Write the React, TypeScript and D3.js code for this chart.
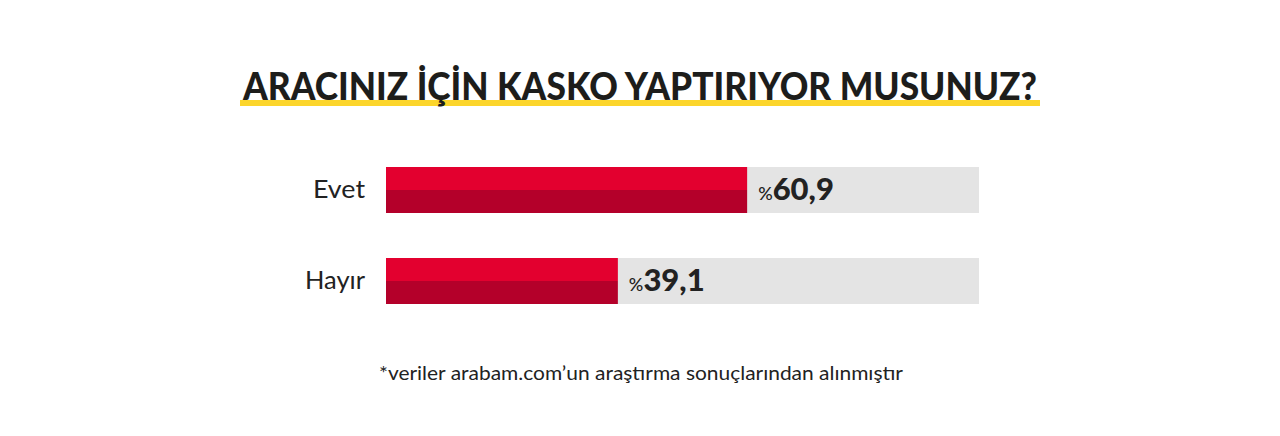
import React from "react";
import * as d3 from "d3";

const title = "ARACINIZ İÇİN KASKO YAPTIRIYOR MUSUNUZ?";
const categories = ["Evet", "Hayır"];
const values = [60.9, 39.1];
const valueLabels = ["60,9", "39,1"];
const footnote = "*veriler arabam.com’un araştırma sonuçlarından alınmıştır";

export default function App() {
  const W = 1280, H = 436;
  const x = d3.scaleLinear().domain([0, 100]).range([386, 979]);
  const bh = 46;
  const tops = [167, 258];
  const font = "Lato, 'Noto Sans', sans-serif";
  return (
    <svg width={W} height={H} style={{ position: "absolute", left: 0, top: 0, background: "#fff" }}>
      <rect x={240} y={100} width={800} height={6} fill="#fcd52b" />
      <text x={640} y={100} textAnchor="middle" fontFamily={font} fontWeight={900} fontSize={38}
        fill="#1d1d1b" textLength={794} lengthAdjust="spacingAndGlyphs">{title}</text>
      {categories.map((c, i) => {
        const yy = tops[i];
        const xe = x(values[i]);
        return (
          <g key={c}>
            <rect x={x(0)} y={yy} width={x(100) - x(0)} height={bh} fill="#e4e4e4" />
            <rect x={x(0)} y={yy} width={xe - x(0)} height={bh / 2} fill="#e3002f" />
            <rect x={x(0)} y={yy + bh / 2} width={xe - x(0)} height={bh / 2} fill="#b4002a" />
            <text x={365} y={yy + bh / 2 + 8} textAnchor="end" fontFamily={font} fontSize={25} fill="#222"
              textLength={i === 0 ? 52 : 60} lengthAdjust="spacingAndGlyphs">{c}</text>
            <text x={xe + 11} y={yy + bh / 2 + 10} fontFamily={font} fill="#222">
              <tspan fontSize={18} fontWeight={500}>%</tspan>
              <tspan fontSize={31} fontWeight={900}>{valueLabels[i]}</tspan>
            </text>
          </g>
        );
      })}
      <text x={641} y={380} textAnchor="middle" fontFamily={font} fontSize={19} fill="#222"
        textLength={524} lengthAdjust="spacingAndGlyphs">{footnote}</text>
    </svg>
  );
}
